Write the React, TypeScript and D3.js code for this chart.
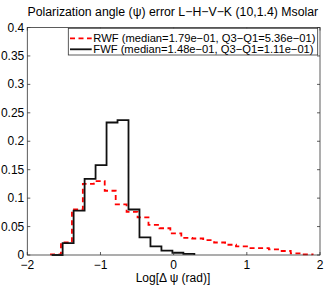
import { useEffect, useRef } from 'react'
import * as d3 from 'd3'

// * Histogram bin edges (log10 of the error) and bin heights
const fwfEdges = [-1.667, -1.517, -1.367, -1.217, -1.067, -0.917, -0.767, -0.617, -0.467, -0.317, -0.167, -0.017, 0.133, 0.283]
const fwfValues = [0, 0.021, 0.078, 0.134, 0.158, 0.233, 0.237, 0.080, 0.031, 0.015, 0.0076, 0.004, 0.002]

const rwfEdges = [-1.689, -1.540, -1.390, -1.241, -1.091, -0.942, -0.792, -0.643, -0.493, -0.344, -0.194, -0.045, 0.105, 0.254, 0.404, 0.553, 0.703, 0.852, 1.002, 1.151, 1.301, 1.450, 1.600, 1.749, 1.899]
const rwfValues = [0.001, 0.022, 0.080, 0.125, 0.130, 0.113, 0.089, 0.076, 0.066, 0.053, 0.047, 0.038, 0.030, 0.029, 0.026, 0.022, 0.018, 0.015, 0.012, 0.012, 0.010, 0.007, 0.003, 0.001]

const xTicks = [-2, -1, 0, 1, 2]
const yTicks = [0, 0.05, 0.1, 0.15, 0.2, 0.25, 0.3, 0.35, 0.4]

const legendLabels = [
  'RWF (median=1.79e\u221201, Q3\u2212Q1=5.36e\u221201)',
  'FWF (median=1.48e\u221201, Q3\u2212Q1=1.11e\u221201)',
]
const titleText = 'Polarization angle (\u03c8) error L\u2212H\u2212V\u2212K (10,1.4) Msolar'
const xLabel = 'Log[\u0394 \u03c8 (rad)]'

const svgWidth = 332
const svgHeight = 287
const font = '"Liberation Sans", Arial, Helvetica, sans-serif'

export default function App() {
  const ref = useRef<SVGSVGElement | null>(null)

  useEffect(() => {
    document.body.style.margin = '0'
    const svg = d3.select(ref.current)
    svg.selectAll('*').remove()

    const margin = { top: 27.5, right: 12, bottom: 32, left: 27.3 }
    const width = svgWidth - margin.left - margin.right
    const height = svgHeight - margin.top - margin.bottom

    const xScale = d3.scaleLinear().domain([-2, 2]).range([margin.left, margin.left + width])
    const yScale = d3.scaleLinear().domain([0, 0.4]).range([margin.top + height, margin.top])

    svg.append('rect').attr('width', svgWidth).attr('height', svgHeight).attr('fill', 'white')

    // * Stairs path for a histogram
    const stairs = (edges: number[], values: number[]) => {
      const pts: [number, number][] = []
      values.forEach((v, i) => {
        pts.push([edges[i], v])
        pts.push([edges[i + 1], v])
      })
      pts.push([edges[edges.length - 1], 0])
      return d3.line<[number, number]>()
        .x((d) => xScale(d[0]))
        .y((d) => yScale(d[1]))(pts)
    }

    const plot = svg.append('g')

    plot.append('path')
      .attr('d', stairs(rwfEdges, rwfValues))
      .attr('fill', 'none')
      .attr('stroke', '#ff0000')
      .attr('stroke-width', 1.8)
      .attr('stroke-dasharray', '5,3.5')

    plot.append('path')
      .attr('d', stairs(fwfEdges, fwfValues))
      .attr('fill', 'none')
      .attr('stroke', '#111')
      .attr('stroke-width', 1.8)

    // * Axes box with inward ticks on all sides
    const axisColor = '#333'
    const tickLen = 3
    const x0 = xScale(-2), x1 = xScale(2), y0 = yScale(0), y1 = yScale(0.4)

    const axes = svg.append('g').attr('stroke', axisColor).attr('stroke-width', 0.8).attr('fill', 'none')
    axes.append('rect').attr('x', x0).attr('y', y1).attr('width', x1 - x0).attr('height', y0 - y1)

    xTicks.forEach((t) => {
      axes.append('line').attr('x1', xScale(t)).attr('x2', xScale(t)).attr('y1', y0).attr('y2', y0 - tickLen)
      axes.append('line').attr('x1', xScale(t)).attr('x2', xScale(t)).attr('y1', y1).attr('y2', y1 + tickLen)
    })
    yTicks.forEach((t) => {
      axes.append('line').attr('x1', x0).attr('x2', x0 + tickLen).attr('y1', yScale(t)).attr('y2', yScale(t))
      axes.append('line').attr('x1', x1).attr('x2', x1 - tickLen).attr('y1', yScale(t)).attr('y2', yScale(t))
    })

    const fmt = (v: number) => d3.format('')(v).replace('-', '\u2212')

    svg.append('g')
      .selectAll('text')
      .data(xTicks)
      .enter()
      .append('text')
      .attr('x', (d) => xScale(d))
      .attr('y', y0 + 13.5)
      .attr('text-anchor', 'middle')
      .attr('font-family', font)
      .attr('font-size', 12)
      .attr('fill', '#000')
      .text((d) => fmt(d))

    svg.append('g')
      .selectAll('text')
      .data(yTicks)
      .enter()
      .append('text')
      .attr('x', x0 - 3)
      .attr('y', (d) => yScale(d) + 4)
      .attr('text-anchor', 'end')
      .attr('font-family', font)
      .attr('font-size', 12)
      .attr('fill', '#000')
      .text((d) => fmt(d))

    // * Title and x label
    svg.append('text')
      .attr('x', 172.8)
      .attr('y', 15.5)
      .attr('text-anchor', 'middle')
      .attr('font-family', font)
      .attr('font-size', 12.3)
      .attr('fill', '#000')
      .text(titleText)

    svg.append('text')
      .attr('x', 173)
      .attr('y', 281.5)
      .attr('text-anchor', 'middle')
      .attr('font-family', font)
      .attr('font-size', 12)
      .attr('fill', '#000')
      .text(xLabel)

    // * Legend
    const legend = svg.append('g')
    legend.append('rect')
      .attr('x', 68.3)
      .attr('y', 28.3)
      .attr('width', 249.4)
      .attr('height', 26.7)
      .attr('fill', 'white')
      .attr('stroke', axisColor)
      .attr('stroke-width', 0.8)

    const rows = [
      { label: legendLabels[0], color: '#ff0000', dash: '5,3.5' },
      { label: legendLabels[1], color: '#111', dash: null },
    ]
    rows.forEach((r, i) => {
      const cy = 38.3 + i * 11
      legend.append('line')
        .attr('x1', 70).attr('x2', 91.7)
        .attr('y1', cy).attr('y2', cy)
        .attr('stroke', r.color)
        .attr('stroke-width', 1.8)
        .attr('stroke-dasharray', r.dash)
      legend.append('text')
        .attr('x', 93.3)
        .attr('y', cy + 4)
        .attr('font-family', font)
        .attr('font-size', 11.2)
        .attr('fill', '#000')
        .text(r.label)
    })
  }, [])

  return <svg ref={ref} width={svgWidth} height={svgHeight} style={{ display: 'block' }} />
}
